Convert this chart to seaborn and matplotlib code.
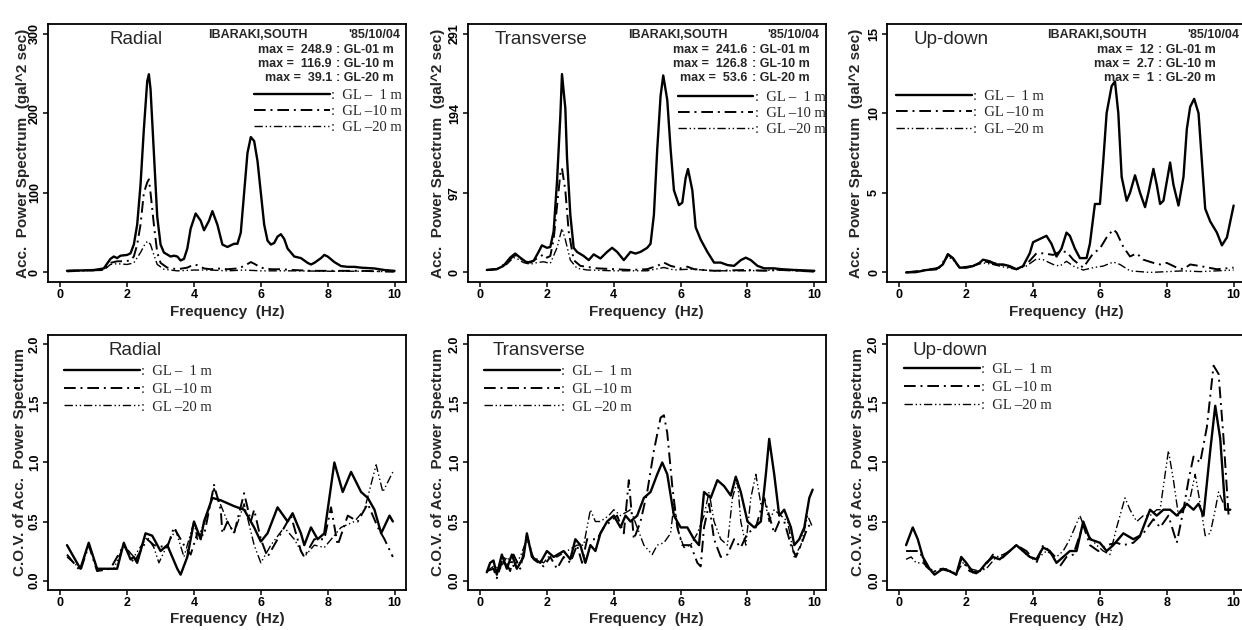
import matplotlib
matplotlib.use("Agg")
import matplotlib.pyplot as plt
import pandas as pd
import seaborn as sns
from matplotlib.font_manager import FontProperties

# ---- data ---------------------------------------------------------------
depths = ["GL-1", "GL-10", "GL-20"]
depth_codes = ["GL-01 m", "GL-10 m", "GL-20 m"]
legend_labels = [":  GL –  1 m", ":  GL –10 m", ":  GL –20 m"]
event_name = "IBARAKI,SOUTH"
event_date = "'85/10/04"

# acceleration power spectrum, radial
ps_rad_f1 = [0.2, 1.0, 1.3, 1.5, 1.6, 1.7, 1.8, 2.0, 2.1, 2.2, 2.3, 2.4, 2.5, 2.6, 2.65, 2.7, 2.8,
             2.9, 3.0, 3.1, 3.3, 3.4, 3.5, 3.6, 3.7, 3.8, 3.9, 4.05, 4.2, 4.3, 4.45, 4.55, 4.7,
             4.85, 5.0, 5.2, 5.3, 5.4, 5.5, 5.6, 5.7, 5.8, 5.9, 6.0, 6.1, 6.2, 6.3, 6.4, 6.5,
             6.6, 6.7, 6.8, 7.0, 7.2, 7.4, 7.5, 7.6, 7.8, 7.9, 8.0, 8.2, 8.4, 8.6, 8.8, 9.0,
             9.4, 9.7, 10.0]
ps_rad_v1 = [2, 3, 5, 17, 20, 18, 21, 22, 24, 35, 60, 110, 180, 240, 248.9, 230, 150,
             70, 35, 25, 20, 21, 20, 15, 17, 30, 55, 74, 65, 53, 65, 77, 60,
             35, 32, 36, 36, 50, 100, 150, 170, 165, 140, 100, 60, 40, 35, 37, 45,
             48, 42, 30, 20, 18, 12, 10, 12, 18, 22, 20, 13, 8, 7, 7, 6,
             5, 3, 2]
ps_rad_f10 = [0.2, 1.3, 1.5, 1.7, 1.9, 2.1, 2.2, 2.3, 2.4, 2.5, 2.6, 2.65, 2.7, 2.8, 2.9, 3.0,
              3.2, 3.5, 3.8, 4.0, 4.1, 4.3, 4.5, 4.7, 5.0, 5.3, 5.5, 5.7, 5.8, 6.0, 6.3, 6.6,
              7.0, 7.5, 8.0, 9.0, 10.0]
ps_rad_v10 = [2, 3, 12, 14, 14, 15, 20, 35, 60, 100, 113, 116.9, 100, 60, 25, 12,
              6, 4, 6, 10, 9, 5, 4, 5, 4, 5, 8, 13, 11, 6, 4, 4,
              3, 2, 2, 2, 1]
ps_rad_f20 = [0.2, 1.3, 1.5, 1.7, 2.0, 2.2, 2.4, 2.55, 2.62, 2.7, 2.8, 2.9, 3.1, 3.5, 4.0,
              4.5, 5.0, 5.5, 6.0, 7.0, 8.0, 9.0, 10.0]
ps_rad_v20 = [1, 3, 10, 11, 10, 12, 25, 37, 39.1, 35, 22, 10, 4, 2, 3,
              3, 2, 3, 2, 2, 1.5, 1.5, 1]

# acceleration power spectrum, transverse
ps_tra_f1 = [0.2, 0.5, 0.7, 0.9, 1.05, 1.2, 1.4, 1.6, 1.75, 1.85, 2.0, 2.1, 2.2, 2.3, 2.4, 2.45,
             2.55, 2.6, 2.7, 2.8, 2.9, 3.1, 3.25, 3.4, 3.6, 3.8, 3.95, 4.1, 4.3, 4.5, 4.65,
             4.8, 5.0, 5.1, 5.2, 5.3, 5.4, 5.48, 5.6, 5.7, 5.8, 5.95, 6.05, 6.15, 6.22, 6.35,
             6.45, 6.6, 6.8, 7.0, 7.2, 7.4, 7.6, 7.8, 7.95, 8.1, 8.3, 8.5, 8.8, 9.0, 9.4, 10.0]
ps_tra_v1 = [3, 4, 8, 18, 23, 18, 12, 14, 25, 33, 30, 31, 50, 110, 190, 241.6,
             200, 140, 70, 30, 25, 20, 15, 22, 17, 25, 30, 25, 15, 25, 23,
             25, 30, 35, 70, 150, 215, 240, 210, 150, 100, 82, 85, 115, 126, 100,
             55, 40, 25, 12, 12, 9, 8, 15, 18, 15, 8, 5, 5, 4, 3, 2]
ps_tra_f10 = [0.2, 0.5, 0.8, 1.0, 1.1, 1.3, 1.5, 1.7, 1.9, 2.0, 2.1, 2.2, 2.3, 2.4, 2.45, 2.55,
              2.65, 2.8, 3.0, 3.5, 4.0, 4.5, 5.0, 5.3, 5.5, 5.7, 6.0, 6.2, 6.4, 7.0, 8.0, 8.5,
              9.0, 10.0]
ps_tra_v10 = [3, 4, 12, 20, 21, 14, 12, 17, 22, 18, 20, 40, 80, 120, 126.8, 100,
              50, 15, 8, 5, 4, 3, 4, 8, 12, 8, 5, 7, 4, 2, 3, 2,
              3, 1]
ps_tra_f20 = [0.2, 0.5, 0.8, 1.0, 1.1, 1.3, 1.5, 1.7, 1.9, 2.1, 2.3, 2.45, 2.55, 2.7, 2.9, 3.2,
              4.0, 5.0, 5.5, 5.8, 6.3, 7.0, 8.0, 9.0, 10.0]
ps_tra_v20 = [3, 4, 10, 18, 17, 12, 10, 12, 13, 11, 30, 53.6, 40, 15, 5, 3,
              2, 2, 6, 3, 4, 2, 2, 3, 1]

# acceleration power spectrum, up-down
ps_ud_f1 = [0.2, 0.5, 0.8, 1.1, 1.3, 1.45, 1.6, 1.8, 2.0, 2.2, 2.4, 2.5, 2.7, 2.9, 3.1, 3.3,
            3.5, 3.7, 3.9, 4.0, 4.2, 4.4, 4.55, 4.7, 4.85, 5.0, 5.1, 5.25, 5.4, 5.6, 5.7,
            5.85, 6.0, 6.1, 6.2, 6.35, 6.45, 6.55, 6.65, 6.8, 6.9, 7.05, 7.2, 7.35, 7.45,
            7.6, 7.7, 7.8, 7.9, 8.1, 8.2, 8.35, 8.5, 8.6, 8.7, 8.82, 8.95, 9.05, 9.15, 9.3,
            9.5, 9.65, 9.8, 10.0]
ps_ud_v1 = [0.0, 0.02, 0.15, 0.2, 0.5, 1.15, 0.9, 0.3, 0.3, 0.4, 0.6, 0.8, 0.7, 0.5, 0.5, 0.4,
            0.2, 0.4, 1.2, 1.9, 2.1, 2.3, 1.8, 1.0, 1.5, 2.5, 2.3, 1.5, 0.9, 0.9, 1.8,
            4.3, 4.3, 7.0, 10.0, 11.7, 12.0, 10.0, 6.0, 4.5, 5.0, 6.1, 5.0, 4.1, 5.0,
            6.5, 5.5, 4.3, 4.5, 6.9, 5.5, 4.2, 6.0, 9.0, 10.4, 10.9, 10.0, 7.0, 4.0, 3.2,
            2.5, 1.7, 2.2, 4.2]
ps_ud_f10 = [0.2, 0.8, 1.2, 1.45, 1.6, 1.8, 2.2, 2.5, 2.8, 3.2, 3.5, 3.8, 4.1, 4.3, 4.6, 4.8,
             5.0, 5.2, 5.5, 5.8, 6.0, 6.2, 6.4, 6.5, 6.7, 6.9, 7.1, 7.3, 7.6, 7.8, 8.0, 8.3,
             8.5, 8.7, 9.0, 9.5, 10.0]
ps_ud_v10 = [0.0, 0.15, 0.3, 1.1, 0.9, 0.3, 0.4, 0.7, 0.6, 0.4, 0.2, 0.5, 1.2, 1.2, 1.1, 1.3,
             1.3, 0.8, 0.3, 1.2, 1.5, 2.2, 2.7, 2.5, 1.6, 1.0, 1.2, 0.8, 0.6, 0.5, 0.6, 0.3,
             0.2, 0.5, 0.4, 0.2, 0.3]
ps_ud_f20 = [0.2, 0.8, 1.2, 1.45, 1.6, 1.8, 2.2, 2.5, 2.8, 3.2, 3.5, 3.8, 4.1, 4.3, 4.6, 4.8,
             5.0, 5.2, 5.5, 5.8, 6.1, 6.4, 6.6, 6.9, 7.5, 8.0, 8.5, 9.0, 9.5, 10.0]
ps_ud_v20 = [0.0, 0.15, 0.3, 1.0, 0.8, 0.3, 0.4, 0.6, 0.5, 0.3, 0.2, 0.4, 0.85, 0.8, 0.5, 0.4,
             0.7, 0.4, 0.15, 0.3, 0.4, 0.65, 0.5, 0.1, 0.0, 0.05, 0.1, 0.05, 0.1, 0.15]

ps_rad_max = [248.9, 116.9, 39.1]
ps_tra_max = [241.6, 126.8, 53.6]
ps_ud_max = [12, 2.7, 1]

# C.O.V. of the power spectrum, radial
cov_rad_f1 = [0.2, 0.6, 0.85, 1.1, 1.7, 1.9, 2.1, 2.2, 2.3, 2.55, 2.75, 3.0, 3.2, 3.35, 3.5,
              3.6, 3.8, 4.0, 4.2, 4.3, 4.55, 4.8, 5.2, 5.5, 5.8, 6.0, 6.2, 6.5, 6.8, 6.95, 7.2,
              7.3, 7.5, 7.7, 7.9, 8.2, 8.45, 8.7, 9.0, 9.2, 9.4, 9.6, 9.85, 9.95]
cov_rad_v1 = [0.3, 0.1, 0.32, 0.1, 0.1, 0.32, 0.18, 0.2, 0.15, 0.4, 0.38, 0.25, 0.3, 0.2, 0.1,
              0.05, 0.2, 0.5, 0.35, 0.5, 0.7, 0.68, 0.63, 0.6, 0.45, 0.33, 0.4, 0.62, 0.5, 0.57, 0.4,
              0.3, 0.45, 0.35, 0.4, 1.0, 0.75, 0.92, 0.75, 0.7, 0.6, 0.4, 0.55, 0.5]
cov_rad_f10 = [0.2, 0.6, 0.85, 1.1, 1.5, 1.9, 2.2, 2.6, 2.8, 3.2, 3.4, 3.7, 3.9, 4.1, 4.3, 4.6,
               4.8, 4.85, 5.0, 5.2, 5.5, 5.7, 5.8, 6.0, 6.2, 6.5, 6.9, 7.2, 7.3, 7.6, 7.9, 8.1,
               8.3, 8.6, 8.9, 9.2, 9.5, 9.7, 9.95]
cov_rad_v10 = [0.22, 0.08, 0.3, 0.08, 0.1, 0.3, 0.15, 0.35, 0.3, 0.28, 0.45, 0.3, 0.22, 0.4, 0.38, 0.81,
               0.6, 0.4, 0.5, 0.4, 0.74, 0.5, 0.6, 0.35, 0.2, 0.35, 0.55, 0.25, 0.2, 0.35, 0.35, 0.62,
               0.3, 0.55, 0.5, 0.65, 0.45, 0.35, 0.2]
cov_rad_f20 = [0.2, 0.6, 0.85, 1.1, 1.6, 1.9, 2.2, 2.6, 2.8, 2.95, 3.2, 3.45, 3.7, 4.0, 4.1,
               4.4, 4.6, 5.0, 5.2, 5.5, 5.8, 6.0, 6.3, 6.7, 7.0, 7.3, 7.6, 7.9, 8.4, 8.8, 9.1,
               9.45, 9.65, 9.95]
cov_rad_v20 = [0.2, 0.1, 0.3, 0.1, 0.1, 0.3, 0.2, 0.37, 0.28, 0.15, 0.3, 0.43, 0.2, 0.5, 0.35,
               0.55, 0.78, 0.5, 0.4, 0.65, 0.3, 0.15, 0.3, 0.45, 0.35, 0.2, 0.3, 0.28, 0.45, 0.5, 0.6,
               0.98, 0.75, 0.92]

# C.O.V. of the power spectrum, transverse
cov_tra_f1 = [0.2, 0.3, 0.4, 0.5, 0.65, 0.8, 0.95, 1.1, 1.3, 1.4, 1.55, 1.8, 2.0, 2.2, 2.5, 2.7,
              2.85, 3.0, 3.15, 3.3, 3.45, 3.6, 3.8, 4.0, 4.2, 4.35, 4.5, 4.7, 4.9, 5.1, 5.3,
              5.45, 5.6, 5.8, 6.0, 6.2, 6.4, 6.55, 6.7, 6.9, 7.1, 7.3, 7.5, 7.65, 7.8, 8.0,
              8.2, 8.4, 8.55, 8.65, 8.8, 8.95, 9.1, 9.3, 9.4, 9.55, 9.7, 9.85, 9.95]
cov_tra_v1 = [0.07, 0.15, 0.17, 0.05, 0.22, 0.1, 0.22, 0.1, 0.2, 0.4, 0.2, 0.15, 0.25, 0.2, 0.25, 0.18,
              0.35, 0.3, 0.15, 0.3, 0.25, 0.4, 0.5, 0.55, 0.45, 0.55, 0.5, 0.55, 0.7, 0.75, 0.9,
              1.0, 0.9, 0.55, 0.45, 0.45, 0.35, 0.3, 0.75, 0.7, 0.85, 0.8, 0.72, 0.88, 0.75, 0.5,
              0.45, 0.5, 0.9, 1.2, 0.9, 0.55, 0.6, 0.45, 0.3, 0.35, 0.45, 0.7, 0.77]
cov_tra_f10 = [0.2, 0.4, 0.5, 0.7, 0.9, 1.0, 1.2, 1.4, 1.6, 1.9, 2.1, 2.3, 2.5, 2.7, 2.9, 3.05,
               3.2, 3.5, 3.7, 3.9, 4.1, 4.3, 4.45, 4.6, 4.8, 5.0, 5.2, 5.4, 5.5, 5.6, 5.75,
               5.9, 6.05, 6.3, 6.5, 6.6, 6.7, 6.85, 7.0, 7.2, 7.4, 7.6, 7.8, 8.0, 8.25, 8.5,
               8.65, 8.8, 8.95, 9.1, 9.3, 9.45, 9.6, 9.8, 9.95]
cov_tra_v10 = [0.08, 0.1, 0.02, 0.2, 0.08, 0.22, 0.1, 0.38, 0.18, 0.12, 0.2, 0.1, 0.2, 0.15, 0.3, 0.15,
               0.35, 0.35, 0.45, 0.5, 0.55, 0.4, 0.85, 0.35, 0.5, 0.75, 1.1, 1.38, 1.4, 1.25, 0.8,
               0.45, 0.3, 0.3, 0.15, 0.12, 0.45, 0.65, 0.35, 0.2, 0.22, 0.35, 0.28, 0.4, 0.45, 0.7,
               0.55, 0.4, 0.5, 0.5, 0.3, 0.2, 0.3, 0.45, 0.5]
cov_tra_f20 = [0.2, 0.4, 0.6, 0.8, 1.0, 1.2, 1.4, 1.6, 1.9, 2.1, 2.3, 2.6, 2.9, 3.1, 3.3, 3.45,
               3.6, 3.85, 4.0, 4.2, 4.5, 4.7, 4.9, 5.15, 5.3, 5.5, 5.7, 5.8, 5.95, 6.1, 6.3,
               6.5, 6.7, 6.85, 7.0, 7.2, 7.4, 7.55, 7.7, 7.8, 7.95, 8.1, 8.25, 8.4, 8.5, 8.65,
               8.8, 9.0, 9.2, 9.4, 9.6, 9.8, 9.95]
cov_tra_v20 = [0.08, 0.12, 0.1, 0.2, 0.12, 0.2, 0.35, 0.2, 0.15, 0.22, 0.2, 0.25, 0.3, 0.3, 0.6, 0.5,
               0.5, 0.55, 0.6, 0.55, 0.6, 0.45, 0.3, 0.22, 0.3, 0.32, 0.4, 0.65, 0.4, 0.28, 0.3,
               0.4, 0.55, 0.75, 0.5, 0.35, 0.3, 0.7, 0.85, 0.5, 0.3, 0.7, 0.9, 0.65, 0.7, 0.5,
               0.6, 0.55, 0.5, 0.2, 0.3, 0.55, 0.45]

# C.O.V. of the power spectrum, up-down
cov_ud_f1 = [0.2, 0.4, 0.55, 0.7, 0.9, 1.05, 1.3, 1.5, 1.7, 1.85, 2.0, 2.2, 2.4, 2.6, 2.8, 3.0,
             3.3, 3.5, 3.7, 3.9, 4.1, 4.3, 4.5, 4.7, 4.9, 5.1, 5.3, 5.5, 5.7, 6.0, 6.2, 6.4,
             6.7, 7.0, 7.2, 7.5, 7.7, 7.9, 8.1, 8.3, 8.6, 8.8, 8.95, 9.1, 9.3, 9.45, 9.6,
             9.75, 9.9]
cov_ud_v1 = [0.3, 0.45, 0.35, 0.2, 0.1, 0.05, 0.1, 0.08, 0.05, 0.2, 0.15, 0.07, 0.08, 0.15, 0.2, 0.18,
             0.25, 0.3, 0.25, 0.2, 0.18, 0.28, 0.25, 0.15, 0.2, 0.25, 0.25, 0.5, 0.35, 0.32, 0.25, 0.3,
             0.4, 0.35, 0.38, 0.6, 0.55, 0.6, 0.6, 0.55, 0.65, 0.6, 0.65, 0.55, 1.1, 1.48, 1.2,
             0.6, 0.6]
cov_ud_f10 = [0.2, 0.4, 0.6, 0.8, 1.0, 1.2, 1.5, 1.7, 1.85, 2.1, 2.3, 2.5, 2.8, 3.0, 3.3, 3.5,
              3.8, 4.1, 4.3, 4.6, 4.8, 5.0, 5.2, 5.5, 5.7, 5.95, 6.2, 6.5, 6.7, 7.0, 7.3, 7.6,
              7.8, 8.05, 8.3, 8.5, 8.65, 8.8, 9.0, 9.2, 9.4, 9.55, 9.7, 9.85]
cov_ud_v10 = [0.25, 0.25, 0.25, 0.12, 0.07, 0.1, 0.08, 0.05, 0.18, 0.08, 0.06, 0.1, 0.22, 0.17, 0.25, 0.3,
              0.25, 0.15, 0.3, 0.22, 0.12, 0.2, 0.22, 0.47, 0.3, 0.25, 0.3, 0.32, 0.3, 0.32, 0.4, 0.52,
              0.45, 0.55, 0.32, 0.6, 0.85, 1.05, 1.0, 1.3, 1.82, 1.75, 1.2, 0.55]
cov_ud_f20 = [0.2, 0.35, 0.5, 0.7, 0.9, 1.1, 1.4, 1.7, 1.9, 2.1, 2.4, 2.6, 2.9, 3.1, 3.3, 3.5,
              3.8, 4.1, 4.4, 4.7, 4.9, 5.1, 5.4, 5.6, 5.9, 6.1, 6.3, 6.5, 6.75, 6.9, 7.1, 7.3,
              7.5, 7.7, 7.8, 8.05, 8.2, 8.35, 8.55, 8.7, 8.85, 9.0, 9.15, 9.3, 9.45, 9.55,
              9.7, 9.85]
cov_ud_v20 = [0.18, 0.2, 0.15, 0.15, 0.1, 0.08, 0.1, 0.06, 0.15, 0.1, 0.08, 0.1, 0.2, 0.22, 0.25, 0.3,
              0.22, 0.18, 0.25, 0.2, 0.25, 0.35, 0.55, 0.4, 0.3, 0.25, 0.22, 0.45, 0.7, 0.6, 0.5, 0.55,
              0.55, 0.6, 0.6, 1.1, 0.85, 0.55, 0.62, 0.7, 0.9, 0.65, 0.38, 0.4, 0.6, 0.75,
              0.65, 0.58]

# ---- styling --------------------------------------------------------------
sns.set_theme(style="ticks")
plt.rcParams["font.family"] = ["Liberation Sans", "DejaVu Sans"]
plt.rcParams.update({
    "axes.edgecolor": "black", "axes.linewidth": 1.3,
    "xtick.color": "black", "ytick.color": "black",
    "xtick.major.size": 3.5, "ytick.major.size": 3.5,
    "xtick.major.width": 1.1, "ytick.major.width": 1.1,
    "xtick.major.pad": 1.5, "ytick.major.pad": 1.5,
})

line_widths = {"GL-1": 1.7, "GL-10": 1.4, "GL-20": 1.0}
dash_map = {"GL-1": "", "GL-10": (6, 2.5, 1, 2.5), "GL-20": (6, 2, 1, 2, 1, 2)}
legend_font = FontProperties(family=["Liberation Serif", "DejaVu Serif"], size=10.5)
note_font = FontProperties(family=["Liberation Sans"], weight="bold", size=9)

ps_label = "Acc.  Power Spectrum  (gal^2 sec)"
cov_label = "C.O.V. of Acc.  Power Spectrum"

panels = [
    dict(series=[(ps_rad_f1, ps_rad_v1), (ps_rad_f10, ps_rad_v10), (ps_rad_f20, ps_rad_v20)],
         pos=(0.0386, 0.5524, 0.2882, 0.4095), ylim=(-12, 312), yticks=[0, 100, 200, 300],
         ylabel=ps_label, title="Radial", title_x=0.173, leg_loc="upper right", leg_xy=(0.99, 0.748),
         leg_sp=0.19, maxes=ps_rad_max, colon_x=0.805, ylab_x=-0.071),
    dict(series=[(ps_tra_f1, ps_tra_v1), (ps_tra_f10, ps_tra_v10), (ps_tra_f20, ps_tra_v20)],
         pos=(0.3766, 0.5524, 0.2882, 0.4095), ylim=(-11.64, 302.64), yticks=[0, 97, 194, 291],
         ylabel=ps_label, title="Transverse", title_x=0.076, leg_loc="upper right", leg_xy=(1.0, 0.742),
         leg_sp=0.19, maxes=ps_tra_max, colon_x=0.793, ylab_x=-0.083),
    dict(series=[(ps_ud_f1, ps_ud_v1), (ps_ud_f10, ps_ud_v10), (ps_ud_f20, ps_ud_v20)],
         pos=(0.7142, 0.5524, 0.2882, 0.4095), ylim=(-0.6, 15.6), yticks=[0, 5, 10, 15],
         ylabel=ps_label, title="Up-down", title_x=0.073, leg_loc="upper left", leg_xy=(0.025, 0.746),
         leg_sp=0.24, maxes=ps_ud_max, colon_x=0.757, ylab_x=-0.087),
    dict(series=[(cov_rad_f1, cov_rad_v1), (cov_rad_f10, cov_rad_v10), (cov_rad_f20, cov_rad_v20)],
         pos=(0.0386, 0.0635, 0.2882, 0.4048), ylim=(-0.08, 2.08), yticks=[0.0, 0.5, 1.0, 1.5, 2.0],
         ylabel=cov_label, title="Radial", title_x=0.168, leg_loc="upper left", leg_xy=(0.045, 0.884),
         leg_sp=0.32, maxes=None, colon_x=None, ylab_x=-0.078),
    dict(series=[(cov_tra_f1, cov_tra_v1), (cov_tra_f10, cov_tra_v10), (cov_tra_f20, cov_tra_v20)],
         pos=(0.3766, 0.0635, 0.2882, 0.4048), ylim=(-0.08, 2.08), yticks=[0.0, 0.5, 1.0, 1.5, 2.0],
         ylabel=cov_label, title="Transverse", title_x=0.07, leg_loc="upper left", leg_xy=(0.045, 0.884),
         leg_sp=0.32, maxes=None, colon_x=None, ylab_x=-0.083),
    dict(series=[(cov_ud_f1, cov_ud_v1), (cov_ud_f10, cov_ud_v10), (cov_ud_f20, cov_ud_v20)],
         pos=(0.7142, 0.0635, 0.2882, 0.4048), ylim=(-0.08, 2.08), yticks=[0.0, 0.5, 1.0, 1.5, 2.0],
         ylabel=cov_label, title="Up-down", title_x=0.07, leg_loc="upper left", leg_xy=(0.047, 0.89),
         leg_sp=0.32, maxes=None, colon_x=None, ylab_x=-0.082),
]


def fmt_tick(v):
    return f"{v:.1f}" if isinstance(v, float) else str(v)


fig = plt.figure(figsize=(12.42, 6.3), dpi=100)

for p in panels:
    ax = fig.add_axes(p["pos"])
    frames = [pd.DataFrame({"freq": f, "val": v, "depth": d})
              for d, (f, v) in zip(depths, p["series"])]
    df = pd.concat(frames, ignore_index=True)
    sns.lineplot(data=df, x="freq", y="val", style="depth", size="depth",
                 style_order=depths, size_order=depths, sizes=line_widths,
                 dashes=dash_map, color="black", estimator=None, sort=False,
                 legend=False, ax=ax)

    ax.set_xlim(-0.37, 10.34)
    ax.set_ylim(*p["ylim"])
    ax.set_xticks([0, 2, 4, 6, 8, 10])
    ax.set_yticks(p["yticks"])
    ax.set_yticklabels([fmt_tick(v) for v in p["yticks"]], rotation=90, va="center")
    for lbl in ax.get_xticklabels() + ax.get_yticklabels():
        lbl.set_fontsize(9)
        lbl.set_fontweight("bold")
    for s in ax.spines.values():
        s.set_visible(True)

    ax.set_xlabel("Frequency  (Hz)", fontsize=11, fontweight="bold")
    ax.xaxis.set_label_coords(0.5, -0.115)
    ax.xaxis.label.set_va("center")
    ax.set_ylabel(p["ylabel"], fontsize=11, fontweight="bold")
    ax.yaxis.set_label_coords(p["ylab_x"], 0.5)
    ax.yaxis.label.set_va("center")

    ax.text(p["title_x"], 0.94, p["title"], transform=ax.transAxes,
            fontsize=13.5, ha="left", va="center")

    ax.legend(ax.get_lines()[:3], legend_labels, loc=p["leg_loc"],
              bbox_to_anchor=p["leg_xy"], frameon=False, prop=legend_font,
              handlelength=5.2, handletextpad=0.1, labelspacing=p["leg_sp"],
              borderaxespad=0, borderpad=0)

    if p["maxes"] is not None:
        ax.text(0.448, 0.957, event_name, transform=ax.transAxes, ha="left", va="center",
                fontproperties=note_font)
        ax.text(0.983, 0.957, event_date, transform=ax.transAxes, ha="right", va="center",
                fontproperties=note_font)
        for y, m, code in zip([0.899, 0.846, 0.789], p["maxes"], depth_codes):
            ax.text(p["colon_x"] - 0.012, y, f"max =  {m}", transform=ax.transAxes,
                    ha="right", va="center", fontproperties=note_font)
            ax.text(p["colon_x"], y, f": {code}", transform=ax.transAxes,
                    ha="left", va="center", fontproperties=note_font)

fig.savefig("out.png", dpi=100, facecolor="white")
